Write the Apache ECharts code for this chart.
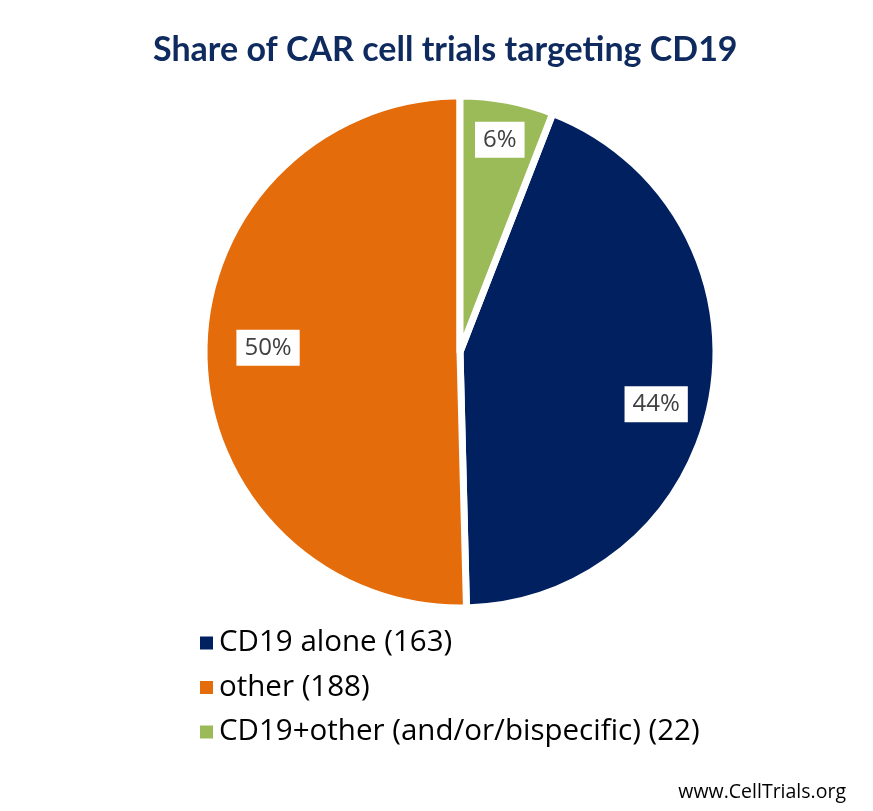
<!DOCTYPE html>
<html>
<head>
<meta charset="utf-8">
<script src="https://cdn.jsdelivr.net/npm/echarts@6/dist/echarts.min.js"></script>
<style>
  html, body { margin: 0; padding: 0; background: #fff; }
  #chart { width: 873px; height: 811px; }
</style>
</head>
<body>
<div id="chart"></div>
<script>
// CAR cell trials by target
const categories = ['CD19 alone', 'other', 'CD19+other (and/or/bispecific)'];
const trialCounts = [163, 188, 22];
const sliceColors = ['#002060', '#E46C0A', '#9BBB59'];

const TITLE_FONT = 'Lato, sans-serif';
const FONT = '"Open Sans", sans-serif';
const CX = 460, CY = 352;
// % label placement (Excel "best fit" look): distance from center, clockwise turn in degrees
const LABEL_DIST = [203, 192, 216];
const LABEL_TURN = [5, 2, 0];

const total = trialCounts.reduce((a, b) => a + b, 0);
const chart = echarts.init(document.getElementById('chart'));

chart.setOption({
  animation: false,
  title: [
    {
      text: 'Share of CAR cell trials targeting CD19',
      left: 148,
      top: 28,
      textStyle: { color: '#0E2A5E', fontSize: 34, fontWeight: 'bold', fontFamily: TITLE_FONT }
    },
    {
      text: 'www.CellTrials.org',
      right: 22,
      bottom: 4,
      textStyle: { color: '#000', fontSize: 19.5, fontWeight: 'normal', fontFamily: FONT }
    }
  ],
  legend: {
    orient: 'vertical',
    left: 193,
    top: 623,
    icon: 'rect',
    itemWidth: 15,
    itemHeight: 15,
    itemGap: 14.5,
    selectedMode: false,
    formatter: name => `${name} (${trialCounts[categories.indexOf(name)]})`,
    textStyle: { color: '#000', fontSize: 29.5, fontFamily: FONT, padding: [0, 0, 0, 0] }
  },
  series: [
    {
      type: 'pie',
      center: [CX, CY],
      radius: [0, 256],
      startAngle: 90 - 360 * trialCounts[2] / total,
      clockwise: true,
      percentPrecision: 0,
      silent: true,
      emphasis: { disabled: true },
      itemStyle: { borderColor: '#fff', borderWidth: 7 },
      label: {
        show: true,
        position: 'inside',
        formatter: '{d}%',
        color: '#404040',
        fontSize: 24,
        fontFamily: FONT,
        backgroundColor: '#fff',
        padding: [7, 8, 5, 8]
      },
      labelLayout: p => {
        const r = p.labelRect;
        const lx = r.x + r.width / 2, ly = r.y + r.height / 2;
        const a = Math.atan2(ly - CY, lx - CX) + LABEL_TURN[p.dataIndex] * Math.PI / 180;
        const d = LABEL_DIST[p.dataIndex];
        return { dx: CX + d * Math.cos(a) - lx, dy: CY + d * Math.sin(a) - ly };
      },
      data: categories.map((name, i) => ({
        name,
        value: trialCounts[i],
        itemStyle: { color: sliceColors[i] }
      }))
    }
  ]
});
</script>
</body>
</html>
